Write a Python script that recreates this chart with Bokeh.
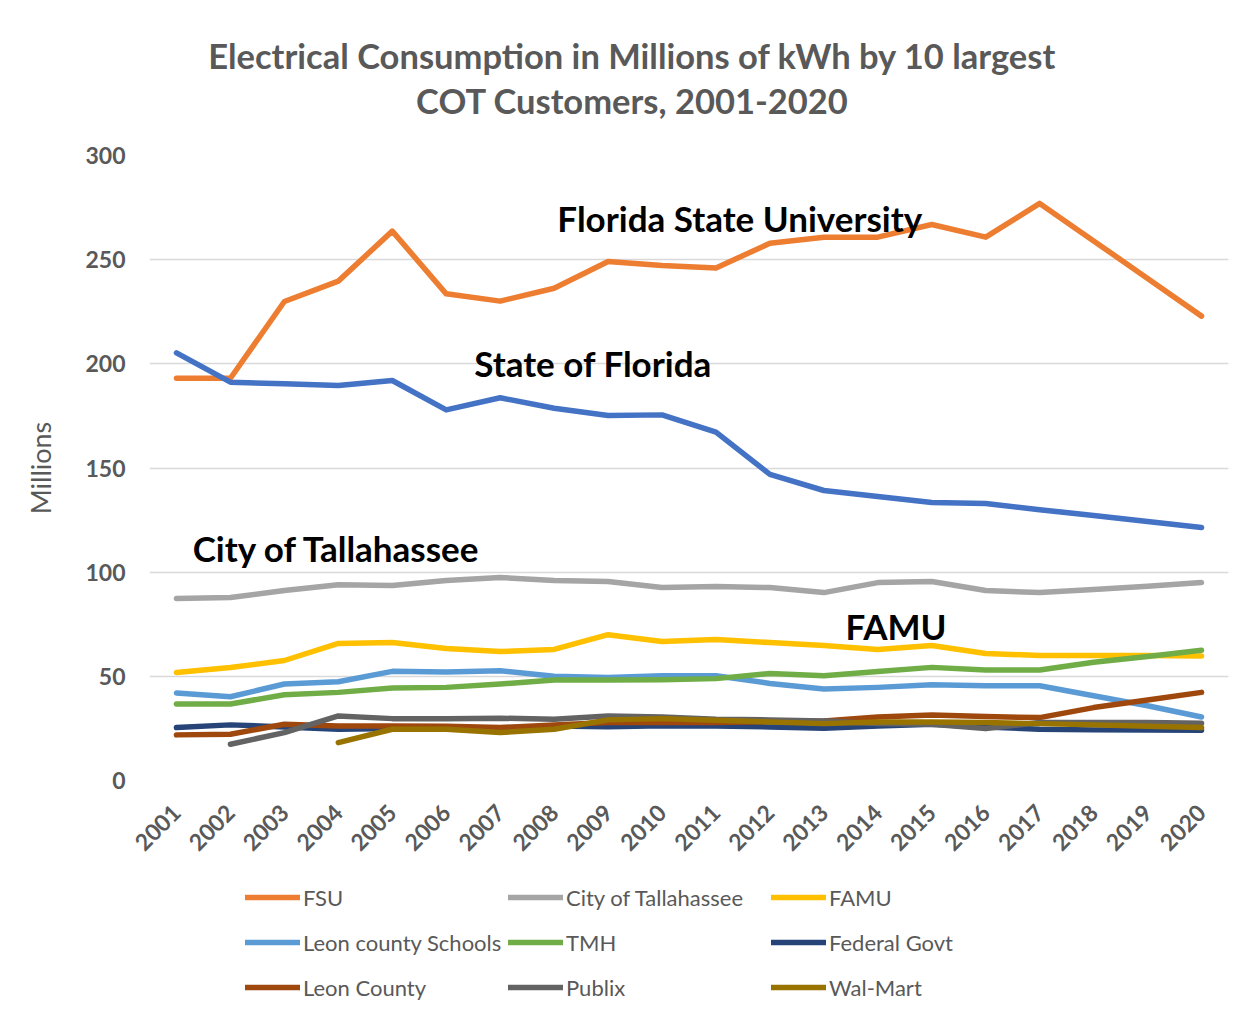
import math
from bokeh.plotting import figure
from bokeh.layouts import column
from bokeh.models import FactorRange, Range1d, FixedTicker, Label
from bokeh.embed import file_html
from bokeh.resources import INLINE

NaN = float("nan")

years = [str(y) for y in range(2001, 2021)]

fsu = [193.1, 193.1, 229.9, 239.7, 263.7, 233.6, 230.1, 236.3, 249.1, 247.2,
       246.0, 257.9, 260.8, 260.8, 266.9, 260.8, 277.0, 259.0, 241.0, 222.9]
state_of_florida = [205.3, 191.2, 190.4, 189.6, 192.0, 177.9, 183.7, 178.7, 175.2, 175.5,
                    167.2, 146.9, 139.2, 136.3, 133.4, 133.0, 130.0, 127.2, 124.3, 121.4]
city_of_tallahassee = [87.4, 87.8, 91.2, 94.0, 93.6, 96.0, 97.4, 96.0, 95.5, 92.6,
                       93.1, 92.6, 90.2, 95.0, 95.5, 91.2, 90.2, 91.7, 93.2, 95.0]
famu = [51.8, 54.2, 57.6, 65.8, 66.2, 63.4, 61.9, 62.9, 70.0, 66.7,
        67.7, 66.2, 64.8, 62.9, 64.8, 61.0, 60.0, 60.0, 60.0, 59.8]
leon_county_schools = [42.0, 40.2, 46.3, 47.4, 52.4, 52.1, 52.7, 50.0, 49.5, 50.3,
                       50.3, 46.6, 43.9, 44.7, 46.0, 45.5, 45.5, 40.7, 35.9, 30.5]
tmh = [36.7, 36.7, 41.2, 42.3, 44.4, 44.7, 46.3, 48.2, 48.2, 48.4,
       48.9, 51.4, 50.3, 52.3, 54.3, 53.0, 53.0, 56.8, 59.5, 62.5]
federal_govt = [25.4, 26.7, 25.7, 24.6, 24.9, 24.9, 25.1, 26.2, 25.8, 26.3,
                26.2, 25.7, 25.1, 26.2, 27.0, 25.7, 24.6, 24.3, 24.3, 24.1]
leon_county = [21.9, 22.2, 27.0, 26.2, 26.2, 26.0, 25.4, 26.7, 27.8, 27.8,
               27.8, 28.3, 28.6, 30.5, 31.4, 30.7, 30.2, 35.0, 38.6, 42.3]
publix = [NaN, 17.4, 23.0, 31.0, 29.7, 29.7, 29.9, 29.4, 31.0, 30.5,
          29.4, 29.1, 28.6, 27.3, 27.0, 24.9, 27.8, 27.8, 27.8, 27.5]
wal_mart = [NaN, NaN, NaN, 18.2, 24.6, 24.6, 23.0, 24.6, 29.1, 29.7,
            28.9, 28.1, 27.3, 28.1, 28.1, 27.8, 27.3, 26.7, 26.0, 25.4]

y_ticks = [0, 50, 100, 150, 200, 250, 300]

title_lines = ["Electrical Consumption in Millions of kWh by 10 largest",
               "COT Customers, 2001-2020"]

series = [
    ("FSU", fsu, "#ED7D31"),
    (None, state_of_florida, "#4472C4"),
    ("City of Tallahassee", city_of_tallahassee, "#A5A5A5"),
    ("FAMU", famu, "#FFC000"),
    ("Leon county Schools", leon_county_schools, "#5B9BD5"),
    ("TMH", tmh, "#70AD47"),
    ("Federal Govt", federal_govt, "#264478"),
    ("Leon County", leon_county, "#9E480E"),
    ("Publix", publix, "#636363"),
    ("Wal-Mart", wal_mart, "#997300"),
]

GREY = "#595959"
FONT = "Lato"
W = 1240
LW = 5.5
FRAME_L, FRAME_R = 149, 1228   # frame edges (page px); all strips share them


def bare(fig):
    fig.outline_line_color = None
    fig.background_fill_color = "white"
    fig.border_fill_color = "white"
    fig.xgrid.grid_line_color = None
    fig.ygrid.grid_line_color = None
    fig.min_border_left = FRAME_L
    fig.min_border_right = W - FRAME_R
    fig.min_border_top = fig.min_border_bottom = 0


# ---------- title strip ----------
TH = 130
pt = figure(width=W, height=TH, x_range=Range1d(FRAME_L, FRAME_R), y_range=Range1d(0, TH),
            output_backend="svg", toolbar_location=None,
            x_axis_location=None, y_axis_location=None)
bare(pt)
for txt, ty in zip(title_lines, [TH - 55, TH - 100]):
    pt.add_layout(Label(x=632, y=ty, text=txt, text_align="center", text_baseline="middle",
                        text_font=FONT, text_font_style="bold", text_font_size="34.5px",
                        text_color=GREY))

# ---------- main chart ----------
p = figure(x_range=FactorRange(*years), y_range=Range1d(0, 300),
           width=W, height=732, output_backend="svg", toolbar_location=None,
           min_border_left=FRAME_L, min_border_right=W - FRAME_R, min_border_top=25,
           min_border_bottom=82)
p.outline_line_color = None
p.background_fill_color = "white"
p.border_fill_color = "white"

p.xgrid.grid_line_color = None
p.ygrid.grid_line_color = "#D9D9D9"
p.ygrid.grid_line_width = 1.5

p.yaxis.ticker = FixedTicker(ticks=y_ticks)
p.yaxis.axis_line_color = None
p.yaxis.major_tick_line_color = None
p.yaxis.minor_tick_line_color = None
p.yaxis.major_tick_in = 0
p.yaxis.major_tick_out = 0
p.yaxis.major_label_standoff = 24
p.yaxis.major_label_text_font = FONT
p.yaxis.major_label_text_font_style = "bold"
p.yaxis.major_label_text_font_size = "23px"
p.yaxis.major_label_text_color = GREY
p.yaxis.axis_label = "Millions"
p.yaxis.axis_label_text_font = FONT
p.yaxis.axis_label_text_font_style = "normal"
p.yaxis.axis_label_text_font_size = "27px"
p.yaxis.axis_label_text_color = GREY
p.yaxis.axis_label_standoff = 25

p.xaxis.axis_line_color = None
p.xaxis.major_tick_line_color = None
p.xaxis.major_tick_in = 0
p.xaxis.major_tick_out = 0
p.xaxis.major_label_standoff = 28
p.xaxis.major_label_orientation = math.pi / 4
p.xaxis.major_label_text_font = FONT
p.xaxis.major_label_text_font_style = "bold"
p.xaxis.major_label_text_font_size = "23px"
p.xaxis.major_label_text_color = GREY

for name, vals, col in series:
    p.line(years, vals, line_width=LW, line_color=col, line_cap="round", line_join="round")

annotations = [
    ("Florida State University", 7.56, 269.8),
    ("State of Florida", 6.02, 200.2),
    ("City of Tallahassee", 0.80, 111.4),
    ("FAMU", 12.9, 74.4),
]
for txt, ax, ay in annotations:
    p.add_layout(Label(x=ax, y=ay, text=txt, text_align="left", text_baseline="middle",
                       text_font=FONT, text_font_style="bold", text_font_size="35px",
                       text_color="black"))

# ---------- legend strip ----------
LH = 153
pl = figure(width=W, height=LH, x_range=FactorRange(*years), y_range=Range1d(1000, 1001),
            output_backend="svg", toolbar_location=None,
            x_axis_location=None, y_axis_location=None)
bare(pl)
for name, vals, col in series:
    if name is None:
        continue
    pl.line(years, vals, line_width=LW, line_color=col, line_cap="round",
            line_join="round", legend_label=name)

leg = pl.legend[0]
leg.location = (245 - FRAME_L, 8)
leg.orientation = "horizontal"
leg.ncols = 3
leg.glyph_width = 55
leg.glyph_height = 40
leg.label_height = 40
leg.label_width = 200
leg.label_standoff = 3
leg.spacing = 5
leg.padding = 0
leg.margin = 0
leg.border_line_color = None
leg.background_fill_alpha = 0
leg.label_text_font = FONT
leg.label_text_font_size = "22px"
leg.label_text_color = GREY

layout = column(pt, p, pl, spacing=0)
open("out.html", "w").write(file_html(layout, INLINE))
